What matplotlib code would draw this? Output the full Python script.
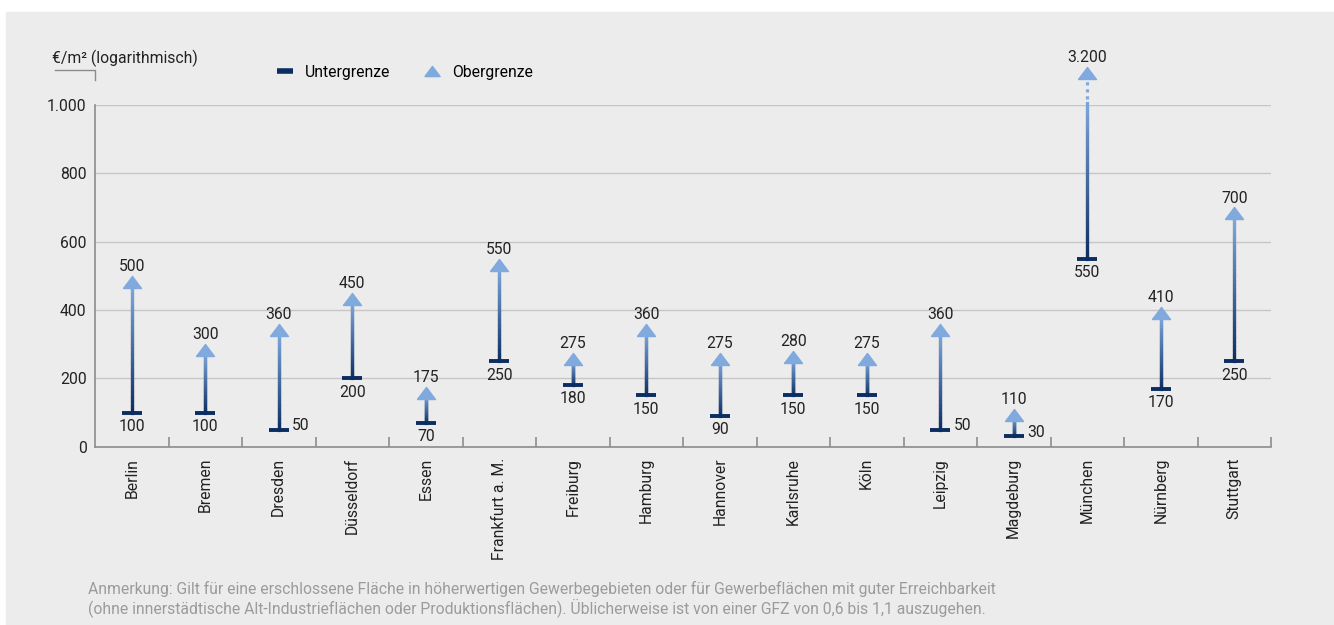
import numpy as np
import matplotlib.pyplot as plt
from matplotlib.collections import LineCollection
from matplotlib.colors import LinearSegmentedColormap
from matplotlib.lines import Line2D
from matplotlib.patches import Rectangle
from matplotlib.transforms import offset_copy

plt.rcParams['font.family'] = ['Roboto', 'DejaVu Sans']

# Daten
staedte = ['Berlin', 'Bremen', 'Dresden', 'Düsseldorf', 'Essen', 'Frankfurt a. M.',
           'Freiburg', 'Hamburg', 'Hannover', 'Karlsruhe', 'Köln', 'Leipzig',
           'Magdeburg', 'München', 'Nürnberg', 'Stuttgart']
untergrenze = [100, 100, 50, 200, 70, 250, 180, 150, 90, 150, 150, 50, 30, 550, 170, 250]
obergrenze = [500, 300, 360, 450, 175, 550, 275, 360, 275, 280, 275, 360, 110, 3200, 410, 700]
y_ticks = [0, 200, 400, 600, 800, 1000]

# Achsenbruch für Werte über der Skala
y_max = 1000
bruch_solid = 1007
bruch_punkte = (1018, 1072)
bruch_spitze = 1111

navy = '#0b2d62'
hellblau = '#80a9dd'
grau_bg = '#ececec'
fs = 11.3
cmap = LinearSegmentedColormap.from_list('grad', [navy, hellblau])

fig = plt.figure(figsize=(13.34, 6.25), dpi=100, facecolor='white')
fig.patches.append(Rectangle((6 / 1334, 0), 1, 613 / 625, transform=fig.transFigure,
                             color=grau_bg, zorder=-10))

ax = fig.add_axes([95 / 1334, (625 - 446.7) / 625, 1176 / 1334, 341.7 / 625])
ax.set_facecolor('none')
ax.set_xlim(-0.5, len(staedte) - 0.5)
ax.set_ylim(0, y_max)

# Dreieck (Spitze am Wert)
tri = [(-1.5, -1), (1.5, -1), (0, 1), (-1.5, -1)]
tri_trans = offset_copy(ax.transData, fig=fig, y=-4.3, units='points')

fmt = lambda v: f'{v:,}'.replace(',', '.')

for i, (lo, hi) in enumerate(zip(untergrenze, obergrenze)):
    top = hi if hi <= y_max else bruch_solid
    ys = np.linspace(lo, top - (15 if hi <= y_max else 0), 40)
    pts = np.array([[i, y] for y in ys]).reshape(-1, 1, 2)
    segs = np.concatenate([pts[:-1], pts[1:]], axis=1)
    if hi <= y_max:
        t = np.linspace(0, 1, len(segs))
    else:
        t = np.linspace(0, 0.95, len(segs))
    lc = LineCollection(segs, colors=cmap(t), linewidths=2.3, capstyle='projecting',
                        zorder=2, clip_on=False)
    ax.add_collection(lc)

    spitze = hi
    if hi > y_max:
        ax.plot([i, i], bruch_punkte, color=hellblau, lw=2.3, ls=(0, (1, 1.2)),
                dash_capstyle='butt', clip_on=False, zorder=2)
        spitze = bruch_spitze

    ax.plot([i], [spitze], ls='none', marker=tri, ms=13, color=hellblau,
            transform=tri_trans, clip_on=False, zorder=3)
    ax.plot([i], [lo], ls='none', marker='_', ms=14, mew=2.8, color=navy,
            clip_on=False, zorder=4)

    ax.annotate(fmt(hi), (i, spitze), xytext=(0, 3.5), textcoords='offset points',
                ha='center', va='baseline', fontsize=fs, color='#222222',
                annotation_clip=False)
    if lo < 60:
        ax.annotate(fmt(lo), (i, lo), xytext=(9.6, 3), textcoords='offset points',
                    ha='left', va='center', fontsize=fs, color='#222222')
    else:
        ax.annotate(fmt(lo), (i, lo), xytext=(0, -4.5), textcoords='offset points',
                    ha='center', va='top', fontsize=fs, color='#222222')

# Achsen
for s in ['top', 'right']:
    ax.spines[s].set_visible(False)
for s in ['left', 'bottom']:
    ax.spines[s].set_color('#8c8c8c')
    ax.spines[s].set_linewidth(1.2)

ax.set_yticks(y_ticks)
ax.set_yticklabels([fmt(v) for v in y_ticks])
ax.tick_params(axis='y', length=0, pad=6, labelsize=fs, labelcolor='#222222')
ax.yaxis.grid(True, color='#c6c6c6', lw=1)
ax.set_axisbelow(True)

ax.set_xticks(range(len(staedte)))
ax.set_xticklabels(staedte, rotation=90, va='top', ha='center')
ax.set_xticks(np.arange(0.5, len(staedte), 1), minor=True)
ax.tick_params(axis='x', which='major', length=0, pad=8, labelsize=fs, labelcolor='#222222')
ax.tick_params(axis='x', which='minor', direction='in', length=7, width=1.2, color='#8c8c8c')

# Einheit und Klammer
fig.text(52 / 1334, 1 - 58 / 625, '€/m² (logarithmisch)', fontsize=fs,
         color='#222222', va='center', ha='left')
fig.add_artist(Line2D([55 / 1334, 95 / 1334, 95 / 1334],
                      [1 - 70 / 625, 1 - 70 / 625, 1 - 80 / 625],
                      color='#8c8c8c', lw=1, transform=fig.transFigure))

# Legende
handles = [Line2D([], [], color=navy, lw=4, solid_capstyle='butt'),
           Line2D([], [], ls='none', marker=tri, ms=11, color=hellblau)]
fig.legend(handles, ['Untergrenze', 'Obergrenze'], loc='center left',
           bbox_to_anchor=(277 / 1334, 1 - 72 / 625), ncol=2, frameon=False,
           fontsize=fs, handlelength=1.0, handletextpad=0.75, columnspacing=2.2,
           borderaxespad=0, borderpad=0)

# Anmerkung
fig.text(88 / 1334, 1 - 581 / 625,
         'Anmerkung: Gilt für eine erschlossene Fläche in höherwertigen Gewerbegebieten '
         'oder für Gewerbeflächen mit guter Erreichbarkeit\n'
         '(ohne innerstädtische Alt-Industrieflächen oder Produktionsflächen). '
         'Üblicherweise ist von einer GFZ von 0,6 bis 1,1 auszugehen.',
         fontsize=fs, color='#9b9b9b', va='top', ha='left', linespacing=1.05)

fig.savefig('out.png', dpi=100, facecolor='white')
